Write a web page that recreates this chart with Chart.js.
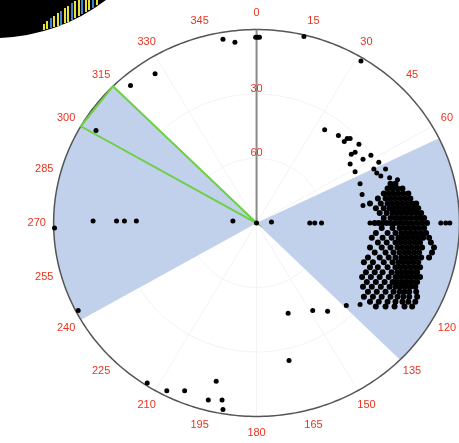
<!DOCTYPE html>
<html lang="en">
<head>
<meta charset="UTF-8">
<title>Sky plot</title>
<script src="https://cdn.jsdelivr.net/npm/chart.js"></script>
<style>
  body { margin: 0; background: #fff; }
  canvas { display: block; }
</style>
</head>
<body>
<canvas id="sky" width="459" height="443"></canvas>
<script>
// azimuth labels round the rim (deg, clockwise from north)
const azimuthTicks = [0, 15, 30, 45, 60, 75, 90, 105, 120, 135, 150, 165, 180, 195, 210, 225, 240, 255, 270, 285, 300, 315, 330, 345];
// elevation rings (deg)
const elevationRings = [30, 60];
// shaded azimuth sectors
const sectorStart = [64, 240];
const sectorEnd = [135, 315];
// green outlined wedge
const wedgeAz = [300, 315];

// points as [east, north], degrees of zenith distance
const scatteredPoints = [
  [-9.6, 84.1], [-0.4, 86.4], [0.4, 86.4], [1.3, 86.4], [21.0, 86.8], [46.3, 75.4], [-14.9, 85.5],
  [-45.0, 69.5], [-55.9, 64.0], [-71.2, 43.0],
  [-72.5, 0.9], [-62.1, 0.9], [-58.6, 0.9], [-53.3, 0.9], [-10.5, 0.9], [0, 0], [6.6, 0.5],
  [23.6, 0], [25.8, 0], [28.8, 0], [-89.6, -2.3], [50.3, 0], [81.7, 0], [83.9, 0], [85.7, 0],
  [-79.1, -40.7], [-48.5, -74.5], [-39.8, -78.1], [-31.9, -78.1], [-17.9, -73.6], [-21.4, -82.3],
  [-15.3, -82.3], [-14.9, -86.8],
  [14.0, -42.0], [24.9, -40.7], [31.5, -41.1], [14.4, -64.0], [39.8, -38.4], [45.9, -37.9]
];

const armPoints = [
  [30.2, 43.4], [36.3, 40.7], [38.9, 37.9], [40.2, 39.3], [41.5, 39.3], [45.4, 36.6], [43.7, 32.9],
  [42.0, 32.0], [50.7, 31.5], [47.2, 29.7], [41.5, 27.4], [54.2, 28.3], [43.7, 23.8], [52.0, 25.1],
  [57.2, 25.1], [53.3, 23.3], [55.1, 21.9], [59.0, 21.0], [62.5, 20.1], [45.9, 18.3], [46.8, 13.3],
  [47.2, 8.2]
];

const clusterPoints = [
  [59.4, 18.3], [61.6, 18.3],
  [58.1, 16.0], [60.3, 16.0], [62.5, 16.0], [64.7, 16.0],
  [56.4, 13.7], [58.6, 13.7], [60.7, 13.7], [62.9, 13.7], [65.1, 13.7], [67.3, 13.7],
  [53.8, 11.4], [57.2, 11.4], [59.4, 11.4], [61.6, 11.4], [63.8, 11.4], [66.0, 11.4], [68.2, 11.4],
  [50.3, 9.1], [55.1, 9.1], [58.1, 9.1], [60.3, 9.1], [62.5, 9.1], [64.7, 9.1], [66.9, 9.1], [69.0, 9.1], [70.8, 9.1],
  [52.9, 6.9], [56.4, 6.9], [59.0, 6.9], [61.2, 6.9], [63.4, 6.9], [65.6, 6.9], [67.7, 6.9], [69.9, 6.9], [71.7, 6.9],
  [54.6, 4.6], [57.7, 4.6], [60.3, 4.6], [62.5, 4.6], [64.7, 4.6], [66.9, 4.6], [69.0, 4.6], [71.2, 4.6], [73.0, 4.6],
  [56.4, 2.3], [59.4, 2.3], [61.6, 2.3], [63.8, 2.3], [66.0, 2.3], [68.2, 2.3], [70.4, 2.3], [72.5, 2.3], [74.3, 2.3],
  [52.4, 0], [54.2, 0], [55.9, 0], [57.7, 0], [59.4, 0], [61.2, 0], [62.9, 0], [64.7, 0], [66.9, 0], [69.0, 0], [71.2, 0], [73.4, 0], [75.6, 0],
  [55.5, -2.3], [60.3, -2.3], [63.4, -2.3], [65.6, -2.3], [67.7, -2.3], [69.9, -2.3], [72.1, -2.3], [74.3, -2.3],
  [52.9, -4.6], [58.1, -4.6], [61.6, -4.6], [64.2, -4.6], [66.4, -4.6], [68.6, -4.6], [70.8, -4.6], [73.0, -4.6], [75.2, -4.6],
  [51.1, -6.9], [55.9, -6.9], [59.9, -6.9], [62.9, -6.9], [65.1, -6.9], [67.3, -6.9], [69.5, -6.9], [71.7, -6.9], [73.9, -6.9], [76.5, -6.9],
  [53.8, -9.1], [57.7, -9.1], [61.6, -9.1], [63.8, -9.1], [66.0, -9.1], [68.2, -9.1], [70.4, -9.1], [72.5, -9.1], [77.3, -9.1],
  [50.3, -11.4], [55.5, -11.4], [59.4, -11.4], [62.5, -11.4], [64.7, -11.4], [66.9, -11.4], [69.0, -11.4], [71.2, -11.4], [73.4, -11.4], [78.7, -11.4],
  [52.4, -13.7], [57.2, -13.7], [60.7, -13.7], [63.4, -13.7], [65.6, -13.7], [67.7, -13.7], [69.9, -13.7], [72.1, -13.7], [77.8, -13.7],
  [49.4, -16.0], [54.6, -16.0], [58.6, -16.0], [61.6, -16.0], [64.2, -16.0], [66.4, -16.0], [68.6, -16.0], [70.8, -16.0], [73.0, -16.0], [76.5, -16.0],
  [47.6, -18.3], [51.6, -18.3], [56.4, -18.3], [60.3, -18.3], [62.9, -18.3], [65.1, -18.3], [67.3, -18.3], [69.5, -18.3], [71.7, -18.3],
  [50.3, -20.6], [53.8, -20.6], [58.1, -20.6], [61.6, -20.6], [63.8, -20.6], [66.0, -20.6], [68.2, -20.6], [70.4, -20.6], [72.5, -20.6],
  [48.5, -22.9], [52.4, -22.9], [55.9, -22.9], [59.9, -22.9], [62.5, -22.9], [64.7, -22.9], [66.9, -22.9], [69.0, -22.9], [71.2, -22.9],
  [46.8, -25.1], [50.7, -25.1], [54.6, -25.1], [58.6, -25.1], [61.6, -25.1], [63.8, -25.1], [66.0, -25.1], [68.2, -25.1], [70.4, -25.1], [72.5, -25.1],
  [48.9, -27.4], [52.9, -27.4], [56.8, -27.4], [60.3, -27.4], [62.5, -27.4], [64.7, -27.4], [66.9, -27.4], [69.0, -27.4], [71.2, -27.4],
  [47.2, -29.7], [51.1, -29.7], [55.1, -29.7], [59.0, -29.7], [61.6, -29.7], [63.8, -29.7], [66.0, -29.7], [68.2, -29.7], [70.4, -29.7],
  [49.4, -32.0], [53.3, -32.0], [57.2, -32.0], [60.7, -32.0], [63.4, -32.0], [65.6, -32.0], [67.7, -32.0], [70.8, -32.0],
  [47.6, -34.3], [51.6, -34.3], [55.5, -34.3], [59.4, -34.3], [62.5, -34.3], [65.1, -34.3], [67.7, -34.3], [71.2, -34.3],
  [50.3, -36.6], [54.2, -36.6], [58.1, -36.6], [61.6, -36.6], [64.7, -36.6], [67.3, -36.6], [70.4, -36.6],
  [52.9, -38.8], [57.2, -38.8], [61.2, -38.8], [65.6, -38.8], [69.0, -38.8]
];

const RIM = 90;
const rad = (d) => d * Math.PI / 180;

// draws rim, sectors, grid and labels under the dots
const skyFrame = {
  id: 'skyFrame',
  beforeDatasetsDraw(chart) {
    const { ctx, scales: { x, y } } = chart;
    const at = (az, r) => [x.getPixelForValue(r * Math.sin(rad(az))), y.getPixelForValue(r * Math.cos(rad(az)))];
    const [cx, cy] = at(0, 0);
    ctx.save();

    // faint grid
    ctx.strokeStyle = '#f3f3f3';
    ctx.lineWidth = 1;
    elevationRings.forEach(el => {
      ctx.beginPath();
      for (let a = 0; a <= 360; a += 2) {
        const [px, py] = at(a, RIM - el);
        a === 0 ? ctx.moveTo(px, py) : ctx.lineTo(px, py);
      }
      ctx.stroke();
    });
    for (let a = 30; a < 360; a += 30) {
      ctx.beginPath();
      ctx.moveTo(cx, cy);
      ctx.lineTo(...at(a, RIM));
      ctx.stroke();
    }

    // shaded sectors
    ctx.fillStyle = 'rgba(182, 200, 232, 0.85)';
    sectorStart.forEach((a0, i) => {
      ctx.beginPath();
      ctx.moveTo(cx, cy);
      for (let a = a0; a <= sectorEnd[i]; a += 1) ctx.lineTo(...at(a, RIM));
      ctx.closePath();
      ctx.fill();
    });

    // rim
    ctx.strokeStyle = '#555';
    ctx.lineWidth = 1.5;
    ctx.beginPath();
    for (let a = 0; a <= 360; a += 1) {
      const [px, py] = at(a, RIM);
      a === 0 ? ctx.moveTo(px, py) : ctx.lineTo(px, py);
    }
    ctx.stroke();

    // north line
    ctx.strokeStyle = '#8a8a8a';
    ctx.lineWidth = 2;
    ctx.beginPath();
    ctx.moveTo(cx, cy);
    ctx.lineTo(...at(0, RIM));
    ctx.stroke();

    // green wedge
    ctx.strokeStyle = '#6fcf45';
    ctx.lineWidth = 2;
    ctx.beginPath();
    ctx.moveTo(cx, cy);
    ctx.lineTo(...at(wedgeAz[0], RIM));
    ctx.lineTo(...at(wedgeAz[1], RIM));
    ctx.closePath();
    ctx.stroke();

    // labels
    ctx.fillStyle = '#e8341f';
    ctx.font = '11px "Liberation Sans", Arial, sans-serif';
    ctx.textAlign = 'center';
    ctx.textBaseline = 'middle';
    azimuthTicks.forEach(a => ctx.fillText(String(a), ...at(a, RIM + 7.5)));
    elevationRings.forEach(el => ctx.fillText(String(el), ...at(0, RIM - el + 2.5)));
    ctx.restore();
  },
  afterDraw(chart) {
    // corner of the neighbouring figure in the photo
    const { ctx } = chart;
    ctx.save();
    ctx.fillStyle = '#000';
    ctx.beginPath();
    ctx.moveTo(0, 0);
    ctx.lineTo(0, 38);
    ctx.quadraticCurveTo(60, 35, 106, 0);
    ctx.closePath();
    ctx.fill();
    const spikes = [[44, 30, 24], [47, 29, 21], [51, 28, 18], [54, 27, 16], [58, 26, 13], [61, 25, 11], [65, 23, 8], [68, 22, 6], [72, 20, 3], [75, 18, 1], [79, 16, 0], [82, 14, 0], [86, 12, 0], [89, 10, 0], [93, 8, 0], [97, 5, 0]];
    ctx.lineWidth = 2;
    spikes.forEach(([sx, y0, y1], i) => {
      ctx.strokeStyle = i % 3 === 2 ? '#3a86d0' : '#e6e23a';
      ctx.beginPath();
      ctx.moveTo(sx, y0);
      ctx.lineTo(sx, y1);
      ctx.stroke();
    });
    ctx.restore();
  }
};

const dotStyle = { pointRadius: 2.5, pointBackgroundColor: '#000', pointBorderWidth: 0, showLine: false };

new Chart(document.getElementById('sky'), {
  type: 'scatter',
  data: {
    datasets: [
      { label: 'scattered', data: scatteredPoints.map(([e, n]) => ({ x: e, y: n })), ...dotStyle },
      { label: 'arm', data: armPoints.map(([e, n]) => ({ x: e, y: n })), ...dotStyle },
      { label: 'cluster', data: clusterPoints.map(([e, n]) => ({ x: e, y: n })), ...dotStyle, pointRadius: 3 }
    ]
  },
  options: {
    responsive: false,
    animation: false,
    layout: { padding: 0 },
    plugins: { legend: { display: false }, tooltip: { enabled: false } },
    scales: {
      x: { type: 'linear', display: false, min: -112, max: 88 },
      y: { type: 'linear', display: false, min: -100.5, max: 101.9 }
    }
  },
  plugins: [skyFrame]
});
</script>
</body>
</html>
